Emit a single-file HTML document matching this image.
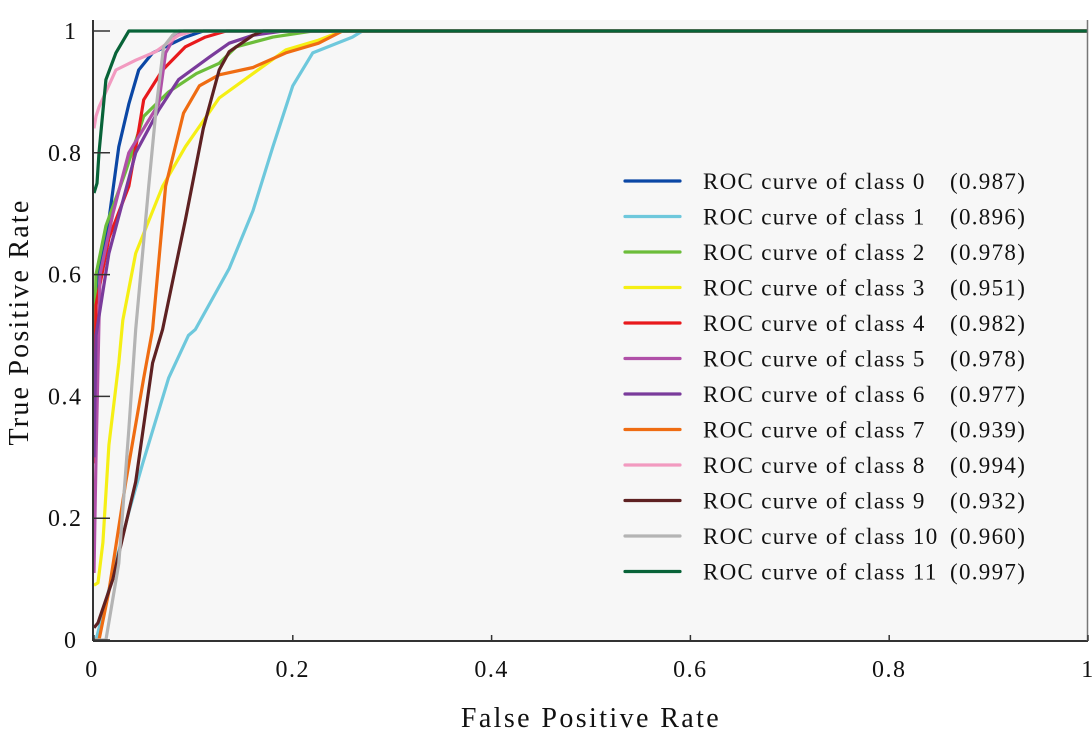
<!DOCTYPE html>
<html><head><meta charset="utf-8"><style>
body{margin:0;background:#fff;}
svg text{font-family:"Liberation Serif",serif;fill:#111;}
</style></head><body>
<svg id="chart" width="1092" height="730" xmlns="http://www.w3.org/2000/svg">
<rect x="93" y="20" width="995" height="621" fill="#f7f7f7"/>
<g id="curves"></g>
<line x1="93" y1="20" x2="93" y2="641" stroke="#333" stroke-width="2"/>
<line x1="93" y1="641" x2="1088" y2="641" stroke="#333" stroke-width="2"/>
<line x1="1087.5" y1="20" x2="1087.5" y2="641" stroke="#777" stroke-width="1.5"/>
<g id="ticks"></g>
<g id="legend"></g>
<text transform="translate(28,322) rotate(-90)" text-anchor="middle" font-size="28" letter-spacing="2.2">True Positive Rate</text>
<text x="591" y="727" text-anchor="middle" font-size="28" letter-spacing="2.4">False Positive Rate</text>
</svg>
<script>
const classNames=["ROC curve of class 0","ROC curve of class 1","ROC curve of class 2","ROC curve of class 3","ROC curve of class 4","ROC curve of class 5","ROC curve of class 6","ROC curve of class 7","ROC curve of class 8","ROC curve of class 9","ROC curve of class 10","ROC curve of class 11"];
const aucValues=["0.987","0.896","0.978","0.951","0.982","0.978","0.977","0.939","0.994","0.932","0.960","0.997"];
const colors=["#0b47a5","#6ec8dc","#6cbd3a","#f5ef14","#e8191c","#b050a8","#7a3b9b","#ef6c12","#f29ac0","#5e2122","#b4b4b4","#086338"];
const xTicks=[0,0.2,0.4,0.6,0.8,1];
const xTickLabels=["0","0.2","0.4","0.6","0.8","1"];
const yTicks=[0,0.2,0.4,0.6,0.8,1];
const yTickLabels=["0","0.2","0.4","0.6","0.8","1"];
const fpr0=[0,0.003,0.015,0.025,0.035,0.045,0.059,0.092,0.11,1];
const tpr0=[0.45,0.6,0.69,0.81,0.88,0.936,0.964,0.99,1,1];
const fpr1=[0,0.002,0.035,0.049,0.075,0.095,0.102,0.136,0.16,0.18,0.2,0.22,0.26,0.27,1];
const tpr1=[0,0.0,0.21,0.29,0.43,0.5,0.51,0.61,0.705,0.81,0.91,0.964,0.99,1,1];
const fpr2=[0,0.002,0.012,0.032,0.05,0.075,0.103,0.126,0.143,0.18,0.22,1];
const tpr2=[0.47,0.6,0.68,0.77,0.86,0.9,0.93,0.947,0.974,0.99,1,1];
const fpr3=[0,0.004,0.009,0.015,0.025,0.029,0.042,0.069,0.092,0.126,0.16,0.193,0.226,0.25,1];
const tpr3=[0.09,0.094,0.16,0.32,0.455,0.525,0.635,0.745,0.81,0.89,0.93,0.969,0.985,1,1];
const fpr4=[0,0.002,0.015,0.035,0.045,0.05,0.069,0.092,0.112,0.133,1];
const tpr4=[0.29,0.55,0.66,0.745,0.837,0.887,0.936,0.974,0.99,1,1];
const fpr5=[0,0.002,0.006,0.019,0.035,0.065,0.072,0.082,0.09,1];
const tpr5=[0.11,0.3,0.6,0.7,0.8,0.88,0.964,0.993,1,1];
const fpr6=[0,0.002,0.015,0.042,0.065,0.085,0.116,0.136,0.16,0.19,1];
const tpr6=[0.3,0.5,0.635,0.8,0.87,0.92,0.957,0.98,0.993,1,1];
const fpr7=[0,0.005,0.015,0.032,0.05,0.059,0.072,0.09,0.106,0.126,0.16,0.193,0.226,0.25,1];
const tpr7=[0,0,0.08,0.26,0.43,0.51,0.745,0.865,0.91,0.928,0.94,0.964,0.98,1,1];
const fpr8=[0,0.002,0.005,0.022,0.042,0.062,0.085,0.1,1];
const tpr8=[0.84,0.86,0.875,0.936,0.952,0.966,0.993,1,1];
const fpr9=[0,0.004,0.019,0.042,0.059,0.069,0.092,0.11,0.126,0.136,0.16,0.17,1];
const tpr9=[0.02,0.028,0.1,0.26,0.455,0.51,0.69,0.84,0.936,0.966,0.993,1,1];
const fpr10=[0,0.012,0.025,0.035,0.042,0.055,0.063,0.07,0.079,0.085,1];
const tpr10=[0,0,0.126,0.345,0.51,0.745,0.88,0.974,0.993,1,1];
const fpr11=[0,0.003,0.005,0.012,0.022,0.035,1];
const tpr11=[0.734,0.75,0.8,0.92,0.964,1,1];
const fprs=[fpr0,fpr1,fpr2,fpr3,fpr4,fpr5,fpr6,fpr7,fpr8,fpr9,fpr10,fpr11];
const tprs=[tpr0,tpr1,tpr2,tpr3,tpr4,tpr5,tpr6,tpr7,tpr8,tpr9,tpr10,tpr11];

const NS="http://www.w3.org/2000/svg";
const X0=94,X1=1088,Y0=640,Y1=31;
function xs(v){return X0+v*(X1-X0);}
function ys(v){return Y0-v*(Y0-Y1);}
function mk(tag,attrs,parent){const e=document.createElementNS(NS,tag);for(const k in attrs)e.setAttribute(k,attrs[k]);parent.appendChild(e);return e;}

const curves=document.getElementById('curves');
for(let i=0;i<fprs.length;i++){
  const d=fprs[i].map((f,j)=>(j?'L':'M')+xs(f).toFixed(1)+','+ys(tprs[i][j]).toFixed(1)).join(' ');
  const p=mk('path',{d:d,fill:'none',stroke:colors[i],'stroke-width':3.2,'stroke-linejoin':'round'},curves);
  
  
}
const ticks=document.getElementById('ticks');
xTicks.forEach((v,i)=>{
  const l=mk('line',{x1:xs(v),x2:xs(v),y1:641,y2:635,stroke:'#333','stroke-width':1.5},ticks);
  
  
  const t=mk('text',{x:xs(v)+(i==0?-2:0),y:677,'text-anchor':'middle','font-size':24,'letter-spacing':1.5},ticks);
  t.textContent=xTickLabels[i];
  
  
});
yTicks.forEach((v,i)=>{
  const l=mk('line',{x1:93,x2:110,y1:ys(v),y2:ys(v),stroke:'#333','stroke-width':1.5},ticks);
  
  
  const t=mk('text',{x:i==0?64:(i==5?64:48),y:ys(v)+8,'font-size':24,'letter-spacing':1.5},ticks);
  t.textContent=yTickLabels[i];
  
  
});
const legend=document.getElementById('legend');
classNames.forEach((n,i)=>{
  const y=181+i*35.5;
  const g=mk('g',{},legend);
  
  
  mk('line',{x1:625,x2:680,y1:y,y2:y,stroke:colors[i],'stroke-width':3.2,'stroke-linecap':'round'},g);
  const t=mk('text',{x:703,y:y+8,'font-size':23,'letter-spacing':1.3},g);
  t.textContent=n;
  const a=mk('text',{x:950,y:y+8,'font-size':23,'letter-spacing':1.3},g);
  a.textContent='('+aucValues[i]+')';
});
</script>
</body></html>
